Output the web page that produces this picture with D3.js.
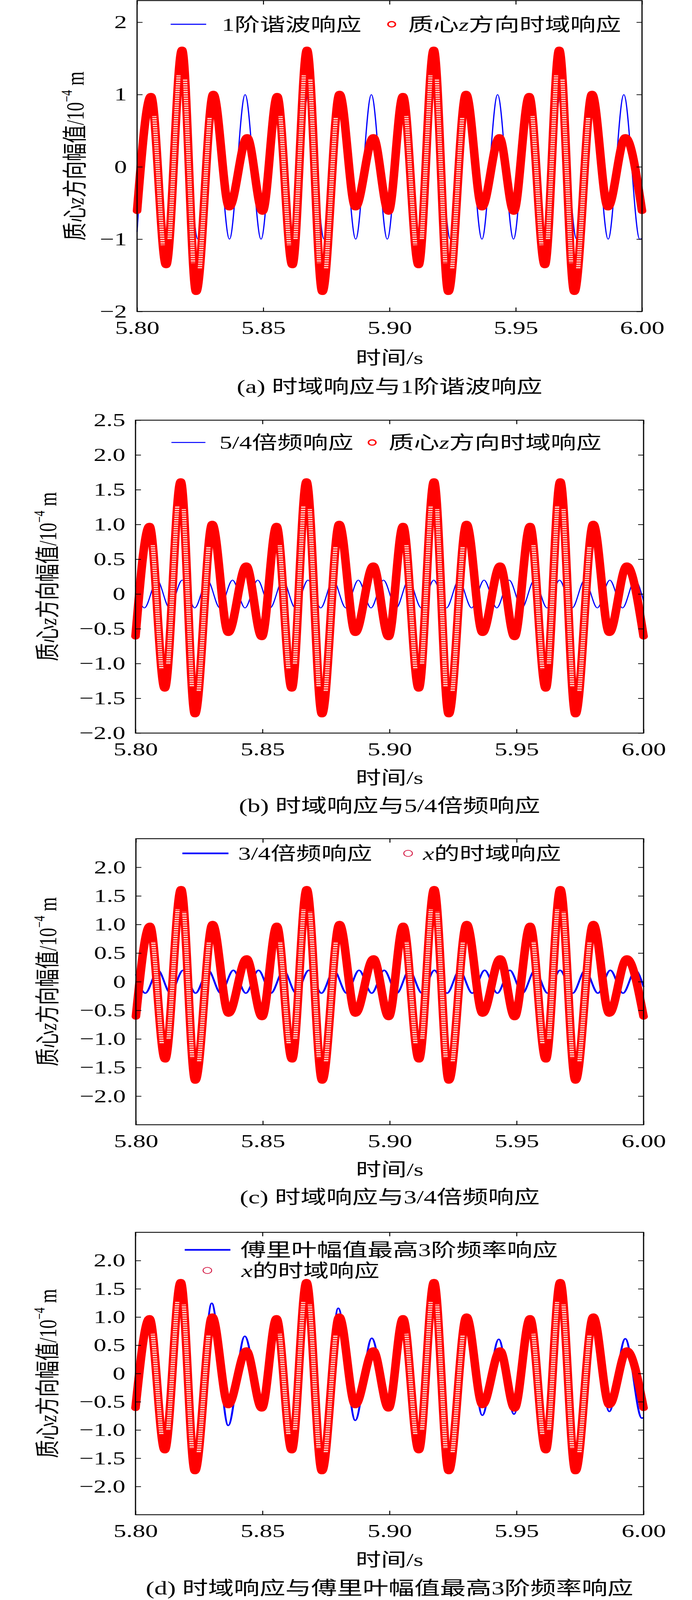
<!DOCTYPE html>
<html>
<head>
<meta charset="utf-8">
<script src="https://cdn.jsdelivr.net/npm/d3@7"></script>
<style>
  html, body { margin: 0; padding: 0; background: #fff; overflow: hidden; }
  svg { display: block; }
  svg text { font-family: "Liberation Serif", "Noto Sans CJK SC", serif; fill: #000; }
</style>
</head>
<body>
<div id="chart"></div>
<script>
// x axis
var timeTicks = [5.80, 5.85, 5.90, 5.95, 6.00];

// time response of the centre of mass (red markers), read at each extremum
var respT = [5.8000,
  5.8055, 5.8115, 5.8178, 5.8234, 5.8302, 5.8365, 5.8436, 5.8497,
  5.8555, 5.8615, 5.8673, 5.8734, 5.8802, 5.8865, 5.8936, 5.8996,
  5.9053, 5.9115, 5.9175, 5.9233, 5.9303, 5.9366, 5.9435, 5.9492,
  5.9553, 5.9615, 5.9672, 5.9732, 5.9802, 5.9865, 5.9934, 6.0000];
var respV = [-0.61,
  0.98, -1.36, 1.62, -1.73, 1.01, -0.56, 0.41, -0.62,
  0.98, -1.36, 1.62, -1.73, 1.01, -0.56, 0.41, -0.62,
  0.98, -1.36, 1.62, -1.73, 1.01, -0.56, 0.41, -0.62,
  0.98, -1.36, 1.62, -1.73, 1.01, -0.56, 0.41, -0.61];

// (a) 1st harmonic
var harm1T = [5.8000, 5.8053, 5.8116, 5.8178, 5.8241, 5.8303, 5.8366, 5.8428, 5.8491,
  5.8553, 5.8616, 5.8678, 5.8741, 5.8803, 5.8866, 5.8928, 5.8991,
  5.9053, 5.9116, 5.9178, 5.9241, 5.9303, 5.9366, 5.9428, 5.9491,
  5.9553, 5.9616, 5.9678, 5.9741, 5.9803, 5.9866, 5.9928, 5.9991, 6.0000];
var harm1V = [-0.90, 1, -1, 1, -1, 1, -1, 1, -1,
  1, -1, 1, -1, 1, -1, 1, -1,
  1, -1, 1, -1, 1, -1, 1, -1,
  1, -1, 1, -1, 1, -1, 1, -1, -0.99];

// (b) 5/4 frequency component
var band54T = [5.8000, 5.8035, 5.8085, 5.8134, 5.8184, 5.8233, 5.8283, 5.8332, 5.8382, 5.8431,
  5.8481, 5.8530, 5.8580, 5.8629, 5.8679, 5.8729, 5.8778, 5.8828, 5.8877, 5.8927,
  5.8976, 5.9026, 5.9075, 5.9125, 5.9174, 5.9224, 5.9273, 5.9323, 5.9372, 5.9422,
  5.9471, 5.9521, 5.9570, 5.9620, 5.9669, 5.9719, 5.9768, 5.9818, 5.9867, 5.9917,
  5.9966, 6.0000];
var band54V = [0.12, -0.2, 0.2, -0.2, 0.2, -0.2, 0.2, -0.2, 0.2, -0.2,
  0.2, -0.2, 0.2, -0.2, 0.2, -0.2, 0.2, -0.2, 0.2, -0.2,
  0.2, -0.2, 0.2, -0.2, 0.2, -0.2, 0.2, -0.2, 0.2, -0.2,
  0.2, -0.2, 0.2, -0.2, 0.2, -0.2, 0.2, -0.2, 0.2, -0.2,
  0.2, -0.10];

// (c) 3/4 frequency component
var band34T = [5.8000, 5.8037, 5.8087, 5.8136, 5.8186, 5.8235, 5.8285, 5.8334, 5.8384, 5.8433,
  5.8483, 5.8532, 5.8582, 5.8631, 5.8681, 5.8731, 5.8780, 5.8830, 5.8879, 5.8929,
  5.8978, 5.9028, 5.9077, 5.9127, 5.9176, 5.9226, 5.9275, 5.9325, 5.9374, 5.9424,
  5.9473, 5.9523, 5.9572, 5.9622, 5.9671, 5.9721, 5.9770, 5.9820, 5.9869, 5.9919,
  5.9968, 6.0000];
var band34V = [0.13, -0.2, 0.2, -0.2, 0.2, -0.2, 0.2, -0.2, 0.2, -0.2,
  0.2, -0.2, 0.2, -0.2, 0.2, -0.2, 0.2, -0.2, 0.2, -0.2,
  0.2, -0.2, 0.2, -0.2, 0.2, -0.2, 0.2, -0.2, 0.2, -0.2,
  0.2, -0.2, 0.2, -0.2, 0.2, -0.2, 0.2, -0.2, 0.2, -0.2,
  0.2, -0.09];

// (d) response of the 3 largest Fourier amplitudes
var fourierT = [5.8000,
  5.8055, 5.8116, 5.8176, 5.8234, 5.8300, 5.8365, 5.8430, 5.8497,
  5.8555, 5.8616, 5.8673, 5.8734, 5.8798, 5.8865, 5.8930, 5.8996,
  5.9053, 5.9115, 5.9175, 5.9234, 5.9303, 5.9365, 5.9430, 5.9490,
  5.9553, 5.9615, 5.9672, 5.9732, 5.9802, 5.9865, 5.9928, 5.9993, 6.0000];
var fourierV = [-0.60,
  0.96, -1.34, 1.52, -1.64, 1.245, -0.92, 0.66, -0.58,
  0.97, -1.34, 1.55, -1.66, 1.157, -0.83, 0.625, -0.60,
  0.98, -1.35, 1.56, -1.68, 1.02, -0.74, 0.607, -0.72,
  0.98, -1.33, 1.55, -1.68, 0.98, -0.673, 0.616, -0.79, -0.78];

(function(d3) {
  'use strict';

  var width = 1772;
  var height = 5666;
  var fontSize = 65;
  var red = '#ff0000';
  var blue = '#0000ff';

  var redLabelZ = [['质心', false], ['z', true], ['方向时域响应', false]];
  var redLabelX = [['x', true], ['的时域响应', false]];
  var fmt1 = function(v) { return v === 0 ? '0' : d3.format('.1f')(v); };

  var panels = [
    { id: 'a', top: 2, bottom: 1103, left: 351, right: 1644,
      yDomain: [-2, 2.3], yTicks: [-2, -1, 0, 1, 2], yFmt: d3.format('d'),
      t: harm1T, v: harm1V, bw: 3, ylabX: 192, titleY: 1267, capY: 1369,
      leg: { y: 86, line: [437, 528], lw: 4, text: 568, mark: 1003, markY: 86, markText: 1045 },
      blueLabel: [['1阶谐波响应', false]], redLabel: redLabelZ, thinMarker: false,
      caption: '(a) 时域响应与1阶谐波响应' },
    { id: 'b', top: 1488, bottom: 2596, left: 347, right: 1648,
      yDomain: [-2, 2.5], yTicks: d3.range(-2, 2.51, 0.5), yFmt: fmt1,
      t: band54T, v: band54V, bw: 3, ylabX: 122, titleY: 2754, capY: 2854,
      leg: { y: 1567, line: [439, 526], lw: 3.5, text: 562, mark: 953, markY: 1567, markText: 995 },
      blueLabel: [['5/4倍频响应', false]], redLabel: redLabelZ, thinMarker: false,
      caption: '(b) 时域响应与5/4倍频响应' },
    { id: 'c', top: 2970, bottom: 3983, left: 348, right: 1648,
      yDomain: [-2.5, 2.5], yTicks: d3.range(-2, 2.01, 0.5), yFmt: fmt1,
      t: band34T, v: band34V, bw: 5, ylabX: 122, titleY: 4141, capY: 4239,
      leg: { y: 3022, line: [467, 585], lw: 6, text: 610, mark: 1045, markY: 3022, markText: 1083 },
      blueLabel: [['3/4倍频响应', false]], redLabel: redLabelX, thinMarker: true,
      caption: '(c) 时域响应与3/4倍频响应' },
    { id: 'd', top: 4364, bottom: 5364, left: 347, right: 1648,
      yDomain: [-2.5, 2.5], yTicks: d3.range(-2, 2.01, 0.5), yFmt: fmt1,
      t: fourierT, v: fourierV, bw: 5, ylabX: 122, titleY: 5524, capY: 5624,
      leg: { y: 4426, line: [473, 590], lw: 6, text: 616, mark: 531, markY: 4499, markText: 618 },
      blueLabel: [['傅里叶幅值最高3阶频率响应', false]], redLabel: redLabelX, thinMarker: true,
      caption: '(d) 时域响应与傅里叶幅值最高3阶频率响应' }
  ];

  // the window may be shorter than the figure: stretch the drawing to whatever it offers
  var viewW = window.innerWidth || width;
  var viewH = Math.min(height, window.innerHeight || height);

  var svg = d3.select('#chart')
    .append('svg')
    .attr('width', viewW)
    .attr('height', viewH)
    .attr('viewBox', '0 0 ' + width + ' ' + height)
    .attr('preserveAspectRatio', 'none');

  var defs = svg.append('defs');

  // light ring holes drawn over the steep parts of the marker band
  var pat = defs.append('pattern')
    .attr('id', 'holes')
    .attr('patternUnits', 'userSpaceOnUse')
    .attr('width', 20)
    .attr('height', 8);
  pat.append('rect').attr('y', 2).attr('width', 20).attr('height', 4).attr('fill', '#fff2e8');

  function addText(sel, x, y, parts, size) {
    var t = sel.append('text')
      .attr('x', x)
      .attr('y', y)
      .attr('font-size', size)
      .attr('dominant-baseline', 'central');
    parts.forEach(function(p) {
      t.append('tspan')
        .attr('font-style', p[1] ? 'italic' : null)
        .text(p[0]);
    });
    return t;
  }

  function styleAxis(a) {
    a.attr('font-size', null).attr('font-family', null);
    a.select('.domain').remove();
    a.selectAll('.tick line').attr('stroke', '#000').attr('stroke-width', 2.5);
    a.selectAll('.tick text').attr('font-size', fontSize);
  }

  function drawPanel(p) {
    var g = svg.append('g').attr('class', 'panel-' + p.id);

    var x = d3.scaleLinear().domain([5.8, 6.0]).range([p.left, p.right]);
    var y = d3.scaleLinear().domain(p.yDomain).range([p.bottom, p.top]);

    var line = d3.line()
      .x(function(d) { return x(d[0]); })
      .y(function(d) { return y(d[1]); })
      .curve(d3.curveMonotoneX);

    // blue component under the markers
    g.append('path')
      .attr('d', line(d3.zip(p.t, p.v)))
      .attr('fill', 'none')
      .attr('stroke', blue)
      .attr('stroke-width', p.bw);

    // red marker band
    g.append('path')
      .attr('d', line(d3.zip(respT, respV)))
      .attr('fill', 'none')
      .attr('stroke', red)
      .attr('stroke-width', 22)
      .attr('stroke-linecap', 'round')
      .attr('stroke-linejoin', 'round');

    // ring texture on the steep swings
    for (var i = 0; i < respT.length - 1; i++) {
      if (Math.abs(respV[i + 1] - respV[i]) < 2) continue;
      var x0 = x(respT[i]), y0 = y(respV[i]);
      var x1 = x(respT[i + 1]), y1 = y(respV[i + 1]);
      var h = (x1 - x0) / 3;
      var seg = d3.path();
      seg.moveTo(x0, y0);
      seg.bezierCurveTo(x0 + h, y0, x1 - h, y1, x1, y1);
      var sp = g.append('path')
        .attr('d', seg.toString())
        .attr('fill', 'none')
        .attr('stroke', 'url(#holes)')
        .attr('stroke-width', 11);
      var len = sp.node().getTotalLength();
      var cut = len * 0.12;
      sp.attr('stroke-dasharray', '0,' + cut + ',' + (len - 2 * cut) + ',' + (cut + 10));
    }

    // axes, ticks pointing inward on all four sides
    styleAxis(g.append('g')
      .attr('transform', 'translate(' + p.left + ',0)')
      .call(d3.axisLeft(y).tickValues(p.yTicks).tickFormat(p.yFmt)
        .tickSizeInner(-14).tickSizeOuter(0).tickPadding(26)));
    styleAxis(g.append('g')
      .attr('transform', 'translate(' + p.right + ',0)')
      .call(d3.axisRight(y).tickValues(p.yTicks).tickFormat('')
        .tickSizeInner(-14).tickSizeOuter(0)));
    styleAxis(g.append('g')
      .attr('transform', 'translate(0,' + p.bottom + ')')
      .call(d3.axisBottom(x).tickValues(timeTicks).tickFormat(d3.format('.2f'))
        .tickSizeInner(-14).tickSizeOuter(0).tickPadding(33)));
    styleAxis(g.append('g')
      .attr('transform', 'translate(0,' + p.top + ')')
      .call(d3.axisTop(x).tickValues(timeTicks).tickFormat('')
        .tickSizeInner(-14).tickSizeOuter(0)));

    g.append('rect')
      .attr('x', p.left)
      .attr('y', p.top)
      .attr('width', p.right - p.left)
      .attr('height', p.bottom - p.top)
      .attr('fill', 'none')
      .attr('stroke', '#000')
      .attr('stroke-width', 3);

    // legend
    var L = p.leg;
    g.append('line')
      .attr('x1', L.line[0]).attr('x2', L.line[1])
      .attr('y1', L.y).attr('y2', L.y)
      .attr('stroke', blue)
      .attr('stroke-width', L.lw);
    addText(g, L.text, L.y, p.blueLabel, fontSize);
    g.append('circle')
      .attr('cx', L.mark)
      .attr('cy', L.markY)
      .attr('r', p.thinMarker ? 11 : 9.5)
      .attr('fill', p.thinMarker ? 'none' : '#fff')
      .attr('stroke', p.thinMarker ? '#d3123e' : red)
      .attr('stroke-width', p.thinMarker ? 2.4 : 4);
    addText(g, L.markText, L.markY, p.redLabel, fontSize);

    // y label
    var midY = (p.top + p.bottom) / 2;
    var yl = g.append('text')
      .attr('x', p.ylabX)
      .attr('y', midY)
      .attr('font-size', 64)
      .attr('text-anchor', 'middle')
      .attr('dominant-baseline', 'central')
      .attr('transform', 'rotate(-90,' + p.ylabX + ',' + midY + ')');
    yl.append('tspan').text('质心');
    yl.append('tspan').attr('font-style', 'italic').text('z');
    yl.append('tspan').text('方向幅值/10');
    yl.append('tspan').attr('font-size', 40).attr('dy', -22).text('−4');
    yl.append('tspan').attr('dy', 22).text(' m');

    var midX = (p.left + p.right) / 2;
    g.append('text')
      .attr('x', midX)
      .attr('y', p.titleY)
      .attr('font-size', fontSize)
      .attr('text-anchor', 'middle')
      .attr('dominant-baseline', 'central')
      .text('时间/s');

    g.append('text')
      .attr('x', midX)
      .attr('y', p.capY)
      .attr('font-size', 66)
      .attr('text-anchor', 'middle')
      .attr('dominant-baseline', 'central')
      .text(p.caption);
  }

  panels.forEach(drawPanel);
})(window.d3);
</script>
</body>
</html>
